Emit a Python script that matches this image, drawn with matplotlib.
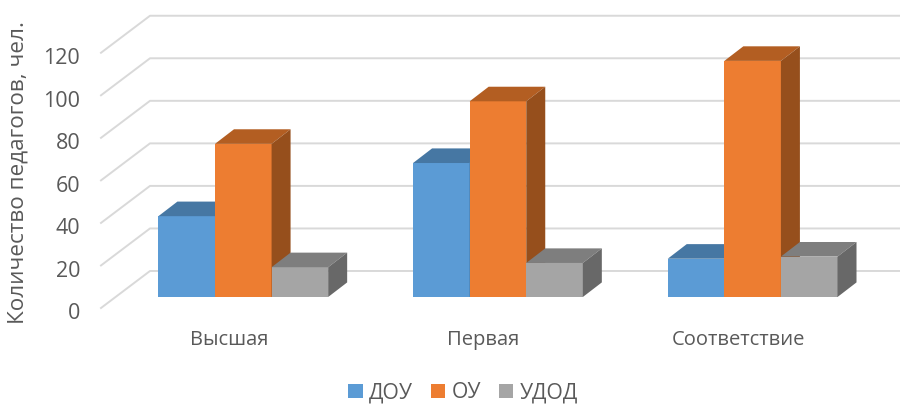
import matplotlib
matplotlib.use('Agg')
import matplotlib.pyplot as plt
from matplotlib.patches import Patch, Polygon
from matplotlib.transforms import ScaledTranslation

plt.rcParams['font.family'] = ['Open Sans', 'DejaVu Sans']

categories = ['Высшая', 'Первая', 'Соответствие']
series_names = ['ДОУ', 'ОУ', 'УДОД']
doy = [38, 63, 18]
oy = [72, 92, 111]
ydod = [14, 16, 19]
y_ticks = [0, 20, 40, 60, 80, 100, 120]

front_colors = ['#5B9BD5', '#ED7D31', '#A5A5A5']
top_colors = ['#4677A3', '#B35E22', '#7E7E7E']
side_colors = ['#3F6C94', '#964F1C', '#686868']
text_color = '#595959'

# the fake 3d box, in axis units
bar_width = 0.2222
wall_dx = 0.1924
wall_dy = 17.4
floor_dx = 0.0573
floor_dy = 5.17
depth_dx = 0.0746
depth_dy = 6.86


def draw_box(ax, x, value, i):
    base = floor_dy
    ax.bar(x, value, width=bar_width, bottom=base, color=front_colors[i],
           align='edge', linewidth=0, zorder=3 + i)
    left, right = x, x + bar_width
    top = base + value
    ax.add_patch(Polygon([(left, top), (right, top),
                          (right + depth_dx, top + depth_dy),
                          (left + depth_dx, top + depth_dy)],
                         color=top_colors[i], linewidth=0, zorder=3 + i))
    ax.add_patch(Polygon([(right, base), (right + depth_dx, base + depth_dy),
                          (right + depth_dx, top + depth_dy), (right, top)],
                         color=side_colors[i], linewidth=0, zorder=3 + i))


fig = plt.figure(figsize=(9, 4.05), dpi=100)
ax = fig.add_axes([101 / 900, (405 - 308) / 405, 799 / 900, 292 / 405])
ax.set_xlim(-0.5014, 2.636)
ax.set_ylim(0, 292 / 2.127)

for tick in y_ticks:
    x_end = ax.get_xlim()
    ax.plot([x_end[0], x_end[0] + wall_dx, x_end[1]],
            [tick, tick + wall_dy, tick + wall_dy],
            color='#D9D9D9', linewidth=1.4, clip_on=False, zorder=1)

for i, values in enumerate([doy, oy, ydod]):
    for j, value in enumerate(values):
        x = j + floor_dx + (i - 1.5) * bar_width
        draw_box(ax, x, value, i)

for side in ax.spines.values():
    side.set_visible(False)
ax.set_yticks(y_ticks)
ax.set_xticks(range(len(categories)))
ax.set_xticklabels(categories)
ax.tick_params(axis='y', length=0, pad=15, labelsize=15.5, labelcolor=text_color)
ax.tick_params(axis='x', length=0, pad=16, labelsize=14.5, labelcolor=text_color)
# numbers sit a little below the end of their grid line
shift_down = ScaledTranslation(0, -2.5 / 72, fig.dpi_scale_trans)
for label in ax.get_yticklabels():
    label.set_transform(label.get_transform() + shift_down)

fig.text(18 / 900, 1 - 172.5 / 405, 'Количество педагогов, чел.', rotation=90,
         ha='center', va='center', fontsize=16.2, color=text_color)

handles = [Patch(color=c, linewidth=0) for c in front_colors]
fig.legend(handles, series_names, loc='lower center', ncol=3, frameon=False,
           bbox_to_anchor=(463 / 900, -0.043), fontsize=15.2, labelcolor=text_color,
           handlelength=0.68, handleheight=0.68, handletextpad=0.3, columnspacing=0.85)

fig.savefig('out.png', dpi=100)
